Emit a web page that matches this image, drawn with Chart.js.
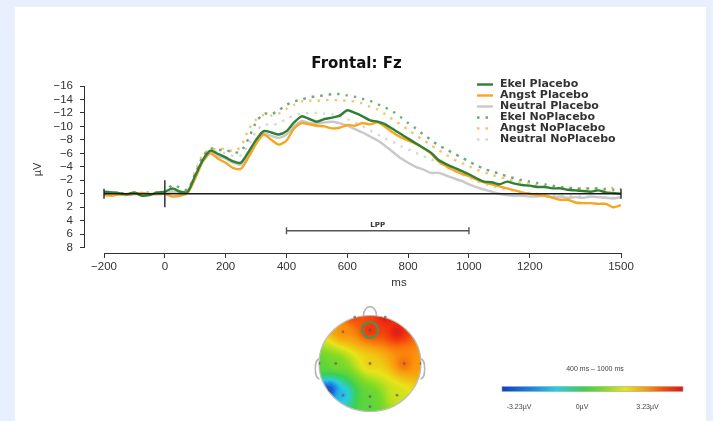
<!DOCTYPE html>
<html>
<head>
<meta charset="utf-8">
<script src="https://cdn.jsdelivr.net/npm/chart.js@4.4.0/dist/chart.umd.min.js"></script>
<style>
  html, body { margin: 0; padding: 0; background: #e7f0fc; }
  body { width: 713px; height: 421px; position: relative; overflow: hidden; }
  #card { position: absolute; left: 15px; top: 7px; width: 691px; height: 430px; background: #fff; }
  #erp { position: absolute; left: 0; top: 0; }
  #topo { position: absolute; left: 300px; top: 296px; }
</style>
</head>
<body>
<div id="card"></div>
<canvas id="erp" width="713" height="300"></canvas>
<canvas id="topo" width="413" height="125"></canvas>
<script>
// time axis (ms)
const times = [-200,-175,-150,-125,-100,-75,-50,-25,
  0,25,50,75,100,125,150,175,
  200,225,250,275,300,325,350,375,
  400,425,450,475,500,525,550,575,
  600,625,650,675,700,725,750,775,
  800,825,850,875,900,925,950,975,
  1000,1025,1050,1075,1100,1125,1150,1175,
  1200,1225,1250,1275,1300,1325,1350,1375,
  1400,1425,1450,1475,1500];

// amplitudes in µV
const ekelPlacebo = [-0.3,-0.2,-0.1,0.1,-0.2,0.3,0.2,-0.2,
  -0.3,-0.8,-0.3,-0.3,-2.7,-5.0,-6.4,-5.9,
  -5.4,-4.8,-4.6,-6.2,-8.0,-9.3,-9.1,-8.8,
  -9.3,-10.6,-11.5,-11.1,-10.7,-11.1,-11.3,-11.6,
  -12.4,-12.0,-11.5,-10.9,-10.7,-10.3,-9.6,-8.9,
  -8.2,-7.5,-6.8,-6.1,-5.0,-4.4,-3.9,-3.4,
  -2.9,-2.3,-1.8,-1.7,-1.4,-1.8,-1.5,-1.3,
  -1.2,-1.0,-1.0,-0.8,-0.8,-0.6,-0.5,-0.4,
  -0.3,-0.5,-0.2,-0.1,0.0];
const angstPlacebo = [0.2,0.3,0.1,0.2,0.0,-0.1,0.1,0.0,
  0.0,0.4,0.3,-0.1,-2.3,-4.8,-6.0,-5.2,
  -4.6,-3.8,-3.7,-5.4,-7.4,-8.8,-8.0,-7.3,
  -7.9,-9.7,-10.5,-10.3,-10.1,-10.0,-9.7,-9.8,
  -10.2,-10.1,-10.5,-10.3,-10.6,-9.9,-9.1,-8.4,
  -7.9,-7.4,-6.8,-6.0,-4.8,-4.1,-3.5,-3.0,
  -2.6,-2.1,-1.7,-1.4,-1.1,-0.8,-0.5,-0.2,
  0.0,0.2,0.3,0.6,0.9,0.9,1.3,1.4,
  1.4,1.5,1.5,2.0,1.7];
const neutralPlacebo = [0.1,0.0,0.2,0.0,0.1,-0.1,0.0,0.1,
  0.0,-0.3,-0.1,-0.2,-2.4,-4.9,-6.2,-5.6,
  -5.2,-4.6,-4.3,-5.8,-7.6,-9.0,-8.6,-8.3,
  -8.8,-10.0,-10.8,-10.5,-10.4,-10.6,-10.7,-10.5,
  -10.1,-9.6,-9.1,-8.5,-7.9,-7.1,-6.2,-5.3,
  -4.6,-4.0,-3.6,-3.1,-3.1,-2.7,-2.3,-1.9,
  -1.4,-1.0,-0.6,-0.3,0.0,0.2,0.3,0.3,
  0.4,0.4,0.3,0.5,0.4,0.6,0.5,0.6,
  0.4,0.5,0.6,0.7,0.5];
const ekelNoPlacebo = [0.0,0.1,-0.1,0.0,0.1,0.0,-0.2,-0.1,
  -0.2,-1.3,-0.9,-0.6,-3.0,-5.5,-6.7,-6.5,
  -6.5,-6.1,-6.3,-8.2,-10.6,-11.9,-11.8,-12.4,
  -13.2,-13.7,-14.0,-14.3,-14.5,-14.6,-14.8,-14.8,
  -14.6,-14.4,-14.1,-13.8,-13.3,-12.8,-12.2,-11.4,
  -10.5,-9.7,-8.8,-8.0,-7.2,-6.6,-6.0,-5.4,
  -4.8,-4.2,-3.7,-3.3,-3.0,-2.6,-2.3,-2.0,
  -1.8,-1.6,-1.4,-1.2,-1.0,-0.9,-0.8,-0.8,
  -0.8,-0.8,-0.7,-0.6,-0.5];
const angstNoPlacebo = [0.1,0.0,0.2,-0.1,0.0,0.2,0.0,-0.2,
  -0.1,-0.5,-0.3,-0.5,-3.3,-5.8,-6.6,-6.6,
  -6.7,-6.3,-7.0,-9.5,-11.0,-11.7,-11.6,-11.9,
  -12.6,-13.2,-13.7,-13.8,-13.8,-13.9,-13.9,-13.9,
  -13.8,-13.7,-13.4,-12.9,-12.5,-11.8,-11.0,-10.3,
  -9.5,-8.7,-8.0,-7.2,-6.5,-5.8,-5.1,-4.6,
  -4.1,-3.6,-3.2,-2.8,-2.5,-2.2,-1.9,-1.7,
  -1.4,-1.3,-1.1,-1.0,-0.9,-0.8,-0.7,-0.7,
  -0.8,-0.7,-0.6,-0.9,-0.7];
const neutralNoPlacebo = [0.0,0.1,0.0,0.1,-0.1,0.0,0.1,0.0,
  -0.1,-0.6,-0.4,-0.4,-2.8,-5.2,-6.4,-6.2,
  -6.0,-5.6,-5.7,-7.3,-9.2,-10.3,-10.2,-10.5,
  -11.1,-11.6,-11.9,-12.0,-12.0,-11.9,-11.8,-11.5,
  -11.1,-10.6,-10.0,-9.4,-8.8,-8.2,-7.7,-7.1,
  -6.6,-6.1,-5.6,-5.1,-4.6,-4.0,-3.4,-2.9,
  -2.4,-1.9,-1.5,-1.1,-0.8,-0.6,-0.4,-0.2,
  -0.1,0.0,0.1,0.2,0.3,0.3,0.4,0.4,
  0.5,0.5,0.5,0.6,0.6];

const xTicks = [-200, 0, 200, 400, 600, 800, 1000, 1200, 1500];
const yTicks = [-16, -14, -12, -10, -8, -6, -4, -2, 0, 2, 4, 6, 8];
const epochRange = [-200, 1500];
const onsetRange = [-2, 2];
const lppWindow = [400, 1000];
const lppLevel = 5.5;

// topomap: electrode positions (unit head) and mean amplitude 400-1000 ms
const electrodeNames = ['Fp1','Fp2','F3','Fz','F4','T7','C3','Cz','C4','T8','P7','P3','Pz','P4','Oz'];
const electrodeX = [-0.3, 0.3, -0.53, 0.0, 0.53, -1.0, -0.67, 0.0, 0.67, 1.0, -0.8, -0.53, 0.0, 0.53, 0.0];
const electrodeY = [0.97, 0.97, 0.66, 0.70, 0.66, 0.0, 0.0, 0.0, 0.0, 0.0, -0.55, -0.66, -0.69, -0.66, -0.9];
const electrodeVals = [2.6, 3.2, 2.0, 2.9, 3.23, 0.0, 0.3, 1.4, 2.3, 1.9, -3.23, -1.6, 0.1, 1.0, 0.0];
const colorRange = [-3.23, 3.23];
const colorTickLabels = ['-3.23\u00b5V', '0\u00b5V', '3.23\u00b5V'];
const windowLabel = '400 ms \u2013 1000 ms';

Chart.defaults.font.family = '"Liberation Sans", Arial, sans-serif';

function series(vals) {
  return times.map((t, i) => ({ x: t, y: vals[i] }));
}
function minus(v) {
  return v < 0 ? '\u2212' + Math.abs(v) : String(v);
}

const base = { pointRadius: 0, fill: false, tension: 0.25, borderWidth: 2.4, borderCapStyle: 'butt' };

const datasets = [
  { ...base, label: 'Ekel Placebo', data: series(ekelPlacebo), borderColor: '#2f7f35', order: 1 },
  { ...base, label: 'Angst Placebo', data: series(angstPlacebo), borderColor: '#f6a623', order: 2 },
  { ...base, label: 'Neutral Placebo', data: series(neutralPlacebo), borderColor: '#c9c9c9', order: 3 },
  { ...base, label: 'Ekel NoPlacebo', data: series(ekelNoPlacebo), borderColor: '#6fa979', borderDash: [2.5, 6], order: 4 },
  { ...base, label: 'Angst NoPlacebo', data: series(angstNoPlacebo), borderColor: '#f8c46e', borderDash: [2.5, 6], order: 5 },
  { ...base, label: 'Neutral NoPlacebo', data: series(neutralNoPlacebo), borderColor: '#d8d8d8', borderDash: [2.5, 6], order: 6 },
  // zero line with end caps
  { data: [{ x: epochRange[0], y: 0 }, { x: epochRange[1], y: 0 }], borderColor: '#1a1a1a', borderWidth: 1.3,
    pointStyle: 'line', pointRotation: 90, pointRadius: 5, pointBorderColor: '#1a1a1a', pointBorderWidth: 1.3, order: 0 },
  // stimulus onset
  { data: [{ x: 0, y: onsetRange[0] }, { x: 0, y: onsetRange[1] }], borderColor: '#333', borderWidth: 1.5, pointRadius: 0, order: 0 },
  // LPP window
  { data: [{ x: lppWindow[0], y: lppLevel }, { x: lppWindow[1], y: lppLevel }], borderColor: '#555', borderWidth: 1.4,
    pointStyle: 'line', pointRotation: 90, pointRadius: 3.5, pointBorderColor: '#555', pointBorderWidth: 1.4, order: 0 }
];

const axisLines = {
  id: 'axisLines',
  afterDraw(chart) {
    const { ctx, scales: { x, y } } = chart;
    ctx.save();
    ctx.strokeStyle = '#333';
    ctx.lineWidth = 1;
    ctx.beginPath();
    ctx.moveTo(x.getPixelForValue(xTicks[0]), x.top + 0.5);
    ctx.lineTo(x.getPixelForValue(xTicks[xTicks.length - 1]), x.top + 0.5);
    ctx.moveTo(y.right - 0.5, y.getPixelForValue(yTicks[0]));
    ctx.lineTo(y.right - 0.5, y.getPixelForValue(yTicks[yTicks.length - 1]));
    ctx.stroke();
    // LPP label
    ctx.fillStyle = '#333';
    ctx.font = 'bold 7px "DejaVu Sans", sans-serif';
    ctx.textAlign = 'center';
    ctx.textBaseline = 'middle';
    ctx.fillText('LPP', x.getPixelForValue((lppWindow[0] + lppWindow[1]) / 2), y.getPixelForValue(lppLevel) - 6);
    ctx.restore();
  }
};

const erpLegend = {
  id: 'erpLegend',
  afterDraw(chart) {
    const ctx = chart.ctx;
    ctx.save();
    ctx.font = 'bold 11px "DejaVu Sans", sans-serif';
    ctx.textBaseline = 'middle';
    ctx.textAlign = 'left';
    chart.data.datasets.filter(d => d.label).forEach((d, i) => {
      const y = 84.5 + i * 11;
      ctx.strokeStyle = d.borderColor;
      ctx.lineWidth = d.borderWidth;
      ctx.setLineDash(d.borderDash || []);
      ctx.beginPath();
      ctx.moveTo(477, y);
      ctx.lineTo(493, y);
      ctx.stroke();
      ctx.setLineDash([]);
      ctx.fillStyle = '#333';
      ctx.fillText(d.label, 500, y);
    });
    ctx.restore();
  }
};

new Chart(document.getElementById('erp'), {
  type: 'line',
  data: { datasets: datasets },
  options: {
    responsive: false,
    animation: false,
    layout: { padding: 0, autoPadding: false },
    plugins: {
      legend: { display: false },
      tooltip: { enabled: false },
      title: {
        display: true, text: 'Frontal: Fz', color: '#111',
        font: { family: '"DejaVu Sans", sans-serif', size: 15, weight: 'bold' },
        padding: { top: 55, bottom: 13 }
      }
    },
    scales: {
      x: {
        type: 'linear', min: -262.5, max: 1802.5,
        afterFit: s => { s.height = 47; },
        afterBuildTicks: s => { s.ticks = xTicks.map(v => ({ value: v })); },
        border: { display: false },
        grid: { drawOnChartArea: false, drawTicks: true, tickLength: 5, color: '#333' },
        ticks: { callback: v => minus(v), color: '#333', font: { size: 11.5 }, padding: 2, maxRotation: 0, autoSkip: false },
        title: { display: true, text: 'ms', color: '#333', font: { size: 11.5 }, padding: { top: 0, bottom: 10 } }
      },
      y: {
        type: 'linear', reverse: true, min: -16, max: 8.8,
        afterFit: s => { s.width = 85; },
        afterBuildTicks: s => { s.ticks = yTicks.map(v => ({ value: v })); },
        border: { display: false },
        grid: { drawOnChartArea: false, drawTicks: true, tickLength: 5, color: '#333' },
        ticks: { callback: v => minus(v), color: '#333', font: { size: 11.5 }, padding: 7, autoSkip: false },
        title: { display: true, text: '\u00b5V', color: '#333', font: { size: 11 }, padding: { top: 31, bottom: 0 } }
      }
    }
  },
  plugins: [axisLines, erpLegend]
});

// ---------- topomap ----------
const colorStops = [
  [0.0, [20, 60, 200]],
  [0.18, [30, 140, 230]],
  [0.3, [40, 205, 225]],
  [0.45, [60, 208, 80]],
  [0.56, [125, 218, 40]],
  [0.68, [232, 228, 24]],
  [0.8, [250, 150, 12]],
  [0.9, [245, 70, 12]],
  [1.0, [230, 20, 20]]
];
function colormap(t) {
  t = Math.max(0, Math.min(1, t));
  for (let i = 1; i < colorStops.length; i++) {
    if (t <= colorStops[i][0]) {
      const [t0, c0] = colorStops[i - 1];
      const [t1, c1] = colorStops[i];
      const f = (t - t0) / (t1 - t0);
      return 'rgb(' + c0.map((c, k) => Math.round(c + (c1[k] - c) * f)).join(',') + ')';
    }
  }
  return 'rgb(230,20,20)';
}

const topoPlugin = {
  id: 'topoField',
  beforeDatasetsDraw(chart) {
    const { ctx, scales: { x, y } } = chart;
    const cx = x.getPixelForValue(0), cy = y.getPixelForValue(0);
    const rx = x.getPixelForValue(1) - cx, ry = cy - y.getPixelForValue(1);
    ctx.save();
    // nose and ears
    ctx.strokeStyle = '#b8b8b8';
    ctx.lineWidth = 1.6;
    ctx.beginPath();
    ctx.moveTo(x.getPixelForValue(-0.13), y.getPixelForValue(0.99));
    ctx.bezierCurveTo(x.getPixelForValue(-0.12), y.getPixelForValue(1.25), x.getPixelForValue(0.12), y.getPixelForValue(1.25), x.getPixelForValue(0.13), y.getPixelForValue(0.99));
    ctx.stroke();
    [-1, 1].forEach(side => {
      ctx.beginPath();
      ctx.moveTo(x.getPixelForValue(side * 0.99), y.getPixelForValue(0.1));
      ctx.bezierCurveTo(x.getPixelForValue(side * 1.1), y.getPixelForValue(0.1), x.getPixelForValue(side * 1.1), y.getPixelForValue(-0.32), x.getPixelForValue(side * 0.99), y.getPixelForValue(-0.32));
      ctx.stroke();
    });
    // interpolated field (inverse distance weighting)
    ctx.beginPath();
    ctx.ellipse(cx, cy, rx, ry, 0, 0, Math.PI * 2);
    ctx.clip();
    for (let py = Math.floor(cy - ry) - 1; py <= Math.ceil(cy + ry); py++) {
      for (let px = Math.floor(cx - rx) - 1; px <= Math.ceil(cx + rx); px++) {
        const vx = x.getValueForPixel(px + 0.5), vy = y.getValueForPixel(py + 0.5);
        let num = 0, den = 0;
        for (let k = 0; k < electrodeVals.length; k++) {
          const d2 = (vx - electrodeX[k]) ** 2 + (vy - electrodeY[k]) ** 2;
          const w = 1 / (d2 + 0.004);
          num += w * electrodeVals[k];
          den += w;
        }
        const v = num / den;
        ctx.fillStyle = colormap((v - colorRange[0]) / (colorRange[1] - colorRange[0]));
        ctx.fillRect(px, py, 1, 1);
      }
    }
    ctx.restore();
    ctx.save();
    ctx.strokeStyle = '#bdbdbd';
    ctx.lineWidth = 1.2;
    ctx.beginPath();
    ctx.ellipse(cx, cy, rx, ry, 0, 0, Math.PI * 2);
    ctx.stroke();
    ctx.restore();
  },
  afterDraw(chart) {
    const { ctx, scales: { x, y } } = chart;
    ctx.save();
    // highlight Fz
    const fz = electrodeNames.indexOf('Fz');
    ctx.strokeStyle = '#3a9a52';
    ctx.lineWidth = 2;
    ctx.beginPath();
    ctx.arc(x.getPixelForValue(electrodeX[fz]), y.getPixelForValue(electrodeY[fz]), 8, 0, Math.PI * 2);
    ctx.stroke();
    // colour bar
    const bx = 202, bw = 181, by = 90.5, bh = 5;
    const grad = ctx.createLinearGradient(bx, 0, bx + bw, 0);
    colorStops.forEach(([t, c]) => grad.addColorStop(t, 'rgb(' + c.join(',') + ')'));
    ctx.fillStyle = grad;
    ctx.fillRect(bx, by, bw, bh);
    ctx.strokeStyle = '#9aa';
    ctx.lineWidth = 0.6;
    ctx.strokeRect(bx, by, bw, bh);
    ctx.fillStyle = '#444';
    ctx.font = '7px "Liberation Sans", Arial, sans-serif';
    ctx.textAlign = 'center';
    ctx.textBaseline = 'middle';
    ctx.fillText(windowLabel, 295, 73.5);
    const labelPos = [219, 282, 347.5];
    colorTickLabels.forEach((s, i) => ctx.fillText(s, labelPos[i], 111.5));
    ctx.restore();
  }
};

new Chart(document.getElementById('topo'), {
  type: 'scatter',
  data: {
    datasets: [{
      data: electrodeX.map((v, i) => ({ x: v, y: electrodeY[i] })),
      pointRadius: 1.4,
      pointBackgroundColor: 'rgba(90,90,90,0.7)',
      pointBorderWidth: 0
    }]
  },
  options: {
    responsive: false,
    animation: false,
    layout: { padding: { left: 19, top: 19.5, right: 292, bottom: 9.5 }, autoPadding: false },
    plugins: { legend: { display: false }, tooltip: { enabled: false } },
    scales: {
      x: { type: 'linear', min: -1, max: 1, display: false },
      y: { type: 'linear', min: -1, max: 1, display: false }
    }
  },
  plugins: [topoPlugin]
});
</script>
</body>
</html>
